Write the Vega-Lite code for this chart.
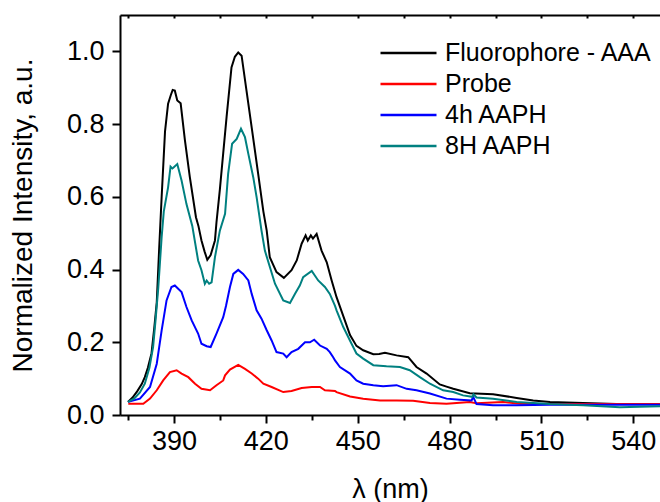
{
"$schema":"https://vega.github.io/schema/vega-lite/v6.json",
"width":540,"height":400,
"autosize":{"type":"none"},
"padding":{"left":120,"top":15,"right":0,"bottom":87},
"config":{"view":{"stroke":null},"font":"Liberation Sans","axis":{"grid":false,"domainColor":"#000","tickColor":"#000","labelColor":"#000","titleColor":"#000","domainWidth":2,"tickWidth":2,"labelFont":"Liberation Sans","titleFont":"Liberation Sans","titleFontWeight":"normal"}},
"data":{"values":[
{"s":"Fluorophore - AAA","x":375.0,"y":0.036},{"s":"Fluorophore - AAA","x":376.5,"y":0.048},{"s":"Fluorophore - AAA","x":378.0,"y":0.065},{"s":"Fluorophore - AAA","x":379.5,"y":0.085},{"s":"Fluorophore - AAA","x":380.5,"y":0.104},{"s":"Fluorophore - AAA","x":381.5,"y":0.13},{"s":"Fluorophore - AAA","x":382.7,"y":0.17},{"s":"Fluorophore - AAA","x":383.6,"y":0.24},{"s":"Fluorophore - AAA","x":384.4,"y":0.31},{"s":"Fluorophore - AAA","x":385.2,"y":0.46},{"s":"Fluorophore - AAA","x":386.0,"y":0.6},{"s":"Fluorophore - AAA","x":387.1,"y":0.78},{"s":"Fluorophore - AAA","x":388.1,"y":0.856},{"s":"Fluorophore - AAA","x":389.0,"y":0.88},{"s":"Fluorophore - AAA","x":389.6,"y":0.894},{"s":"Fluorophore - AAA","x":390.3,"y":0.892},{"s":"Fluorophore - AAA","x":391.1,"y":0.865},{"s":"Fluorophore - AAA","x":392.2,"y":0.857},{"s":"Fluorophore - AAA","x":393.6,"y":0.755},{"s":"Fluorophore - AAA","x":395.2,"y":0.654},{"s":"Fluorophore - AAA","x":397.2,"y":0.544},{"s":"Fluorophore - AAA","x":398.0,"y":0.52},{"s":"Fluorophore - AAA","x":399.0,"y":0.48},{"s":"Fluorophore - AAA","x":400.0,"y":0.45},{"s":"Fluorophore - AAA","x":400.9,"y":0.427},{"s":"Fluorophore - AAA","x":402.0,"y":0.44},{"s":"Fluorophore - AAA","x":403.4,"y":0.48},{"s":"Fluorophore - AAA","x":403.9,"y":0.53},{"s":"Fluorophore - AAA","x":405.0,"y":0.62},{"s":"Fluorophore - AAA","x":406.1,"y":0.72},{"s":"Fluorophore - AAA","x":407.2,"y":0.82},{"s":"Fluorophore - AAA","x":408.8,"y":0.956},{"s":"Fluorophore - AAA","x":409.9,"y":0.985},{"s":"Fluorophore - AAA","x":411.0,"y":0.997},{"s":"Fluorophore - AAA","x":412.1,"y":0.988},{"s":"Fluorophore - AAA","x":413.7,"y":0.892},{"s":"Fluorophore - AAA","x":415.4,"y":0.79},{"s":"Fluorophore - AAA","x":417.5,"y":0.664},{"s":"Fluorophore - AAA","x":419.2,"y":0.56},{"s":"Fluorophore - AAA","x":420.3,"y":0.507},{"s":"Fluorophore - AAA","x":421.3,"y":0.434},{"s":"Fluorophore - AAA","x":423.5,"y":0.393},{"s":"Fluorophore - AAA","x":425.9,"y":0.377},{"s":"Fluorophore - AAA","x":428.4,"y":0.398},{"s":"Fluorophore - AAA","x":430.1,"y":0.425},{"s":"Fluorophore - AAA","x":431.7,"y":0.471},{"s":"Fluorophore - AAA","x":433.0,"y":0.494},{"s":"Fluorophore - AAA","x":433.7,"y":0.48},{"s":"Fluorophore - AAA","x":434.7,"y":0.494},{"s":"Fluorophore - AAA","x":435.4,"y":0.485},{"s":"Fluorophore - AAA","x":436.6,"y":0.498},{"s":"Fluorophore - AAA","x":438.2,"y":0.452},{"s":"Fluorophore - AAA","x":439.9,"y":0.42},{"s":"Fluorophore - AAA","x":441.5,"y":0.37},{"s":"Fluorophore - AAA","x":443.1,"y":0.324},{"s":"Fluorophore - AAA","x":445.8,"y":0.26},{"s":"Fluorophore - AAA","x":447.5,"y":0.22},{"s":"Fluorophore - AAA","x":449.6,"y":0.19},{"s":"Fluorophore - AAA","x":451.8,"y":0.178},{"s":"Fluorophore - AAA","x":455.1,"y":0.167},{"s":"Fluorophore - AAA","x":457.0,"y":0.168},{"s":"Fluorophore - AAA","x":458.9,"y":0.171},{"s":"Fluorophore - AAA","x":462.7,"y":0.164},{"s":"Fluorophore - AAA","x":466.5,"y":0.159},{"s":"Fluorophore - AAA","x":469.2,"y":0.132},{"s":"Fluorophore - AAA","x":472.5,"y":0.114},{"s":"Fluorophore - AAA","x":476.8,"y":0.084},{"s":"Fluorophore - AAA","x":479.0,"y":0.078},{"s":"Fluorophore - AAA","x":481.2,"y":0.072},{"s":"Fluorophore - AAA","x":486.6,"y":0.06},{"s":"Fluorophore - AAA","x":494.2,"y":0.057},{"s":"Fluorophore - AAA","x":501.9,"y":0.047},{"s":"Fluorophore - AAA","x":507.3,"y":0.04},{"s":"Fluorophore - AAA","x":512.8,"y":0.036},{"s":"Fluorophore - AAA","x":523.6,"y":0.033},{"s":"Fluorophore - AAA","x":534.5,"y":0.03},{"s":"Fluorophore - AAA","x":548.7,"y":0.03},
{"s":"Probe","x":375.1,"y":0.031},{"s":"Probe","x":380.0,"y":0.031},{"s":"Probe","x":382.2,"y":0.045},{"s":"Probe","x":384.4,"y":0.068},{"s":"Probe","x":386.5,"y":0.095},{"s":"Probe","x":388.7,"y":0.118},{"s":"Probe","x":390.9,"y":0.123},{"s":"Probe","x":392.5,"y":0.114},{"s":"Probe","x":394.7,"y":0.104},{"s":"Probe","x":396.9,"y":0.086},{"s":"Probe","x":399.0,"y":0.072},{"s":"Probe","x":401.8,"y":0.068},{"s":"Probe","x":403.9,"y":0.082},{"s":"Probe","x":406.1,"y":0.095},{"s":"Probe","x":406.7,"y":0.109},{"s":"Probe","x":408.3,"y":0.125},{"s":"Probe","x":411.0,"y":0.138},{"s":"Probe","x":413.2,"y":0.127},{"s":"Probe","x":415.4,"y":0.114},{"s":"Probe","x":417.5,"y":0.1},{"s":"Probe","x":419.2,"y":0.086},{"s":"Probe","x":421.9,"y":0.077},{"s":"Probe","x":425.7,"y":0.063},{"s":"Probe","x":428.4,"y":0.066},{"s":"Probe","x":431.7,"y":0.074},{"s":"Probe","x":435.0,"y":0.077},{"s":"Probe","x":437.7,"y":0.077},{"s":"Probe","x":439.3,"y":0.068},{"s":"Probe","x":442.6,"y":0.066},{"s":"Probe","x":443.1,"y":0.063},{"s":"Probe","x":447.5,"y":0.051},{"s":"Probe","x":451.8,"y":0.045},{"s":"Probe","x":457.3,"y":0.04},{"s":"Probe","x":462.7,"y":0.04},{"s":"Probe","x":468.1,"y":0.039},{"s":"Probe","x":473.6,"y":0.033},{"s":"Probe","x":479.0,"y":0.031},{"s":"Probe","x":482.3,"y":0.033},{"s":"Probe","x":486.6,"y":0.036},{"s":"Probe","x":488.8,"y":0.032},{"s":"Probe","x":497.5,"y":0.036},{"s":"Probe","x":503.0,"y":0.031},{"s":"Probe","x":512.8,"y":0.03},{"s":"Probe","x":548.7,"y":0.03},
{"s":"4h AAPH","x":375.1,"y":0.036},{"s":"4h AAPH","x":378.9,"y":0.045},{"s":"4h AAPH","x":382.2,"y":0.077},{"s":"4h AAPH","x":384.4,"y":0.141},{"s":"4h AAPH","x":386.0,"y":0.233},{"s":"4h AAPH","x":387.6,"y":0.315},{"s":"4h AAPH","x":389.2,"y":0.352},{"s":"4h AAPH","x":390.3,"y":0.356},{"s":"4h AAPH","x":391.4,"y":0.347},{"s":"4h AAPH","x":392.5,"y":0.338},{"s":"4h AAPH","x":394.1,"y":0.297},{"s":"4h AAPH","x":395.8,"y":0.26},{"s":"4h AAPH","x":397.9,"y":0.224},{"s":"4h AAPH","x":399.0,"y":0.196},{"s":"4h AAPH","x":400.7,"y":0.189},{"s":"4h AAPH","x":402.0,"y":0.187},{"s":"4h AAPH","x":403.9,"y":0.224},{"s":"4h AAPH","x":406.1,"y":0.269},{"s":"4h AAPH","x":407.0,"y":0.3},{"s":"4h AAPH","x":408.3,"y":0.352},{"s":"4h AAPH","x":409.4,"y":0.388},{"s":"4h AAPH","x":411.0,"y":0.399},{"s":"4h AAPH","x":412.6,"y":0.388},{"s":"4h AAPH","x":414.3,"y":0.37},{"s":"4h AAPH","x":415.4,"y":0.333},{"s":"4h AAPH","x":417.0,"y":0.288},{"s":"4h AAPH","x":418.6,"y":0.265},{"s":"4h AAPH","x":420.3,"y":0.233},{"s":"4h AAPH","x":421.9,"y":0.205},{"s":"4h AAPH","x":423.5,"y":0.173},{"s":"4h AAPH","x":425.7,"y":0.169},{"s":"4h AAPH","x":426.8,"y":0.159},{"s":"4h AAPH","x":428.4,"y":0.173},{"s":"4h AAPH","x":430.6,"y":0.182},{"s":"4h AAPH","x":432.8,"y":0.2},{"s":"4h AAPH","x":434.4,"y":0.2},{"s":"4h AAPH","x":435.8,"y":0.207},{"s":"4h AAPH","x":437.7,"y":0.191},{"s":"4h AAPH","x":439.9,"y":0.182},{"s":"4h AAPH","x":440.9,"y":0.173},{"s":"4h AAPH","x":442.0,"y":0.159},{"s":"4h AAPH","x":442.6,"y":0.15},{"s":"4h AAPH","x":444.2,"y":0.132},{"s":"4h AAPH","x":447.5,"y":0.114},{"s":"4h AAPH","x":449.6,"y":0.095},{"s":"4h AAPH","x":451.8,"y":0.086},{"s":"4h AAPH","x":455.1,"y":0.082},{"s":"4h AAPH","x":458.3,"y":0.079},{"s":"4h AAPH","x":462.7,"y":0.082},{"s":"4h AAPH","x":466.0,"y":0.072},{"s":"4h AAPH","x":469.2,"y":0.068},{"s":"4h AAPH","x":473.6,"y":0.059},{"s":"4h AAPH","x":479.0,"y":0.045},{"s":"4h AAPH","x":483.4,"y":0.042},{"s":"4h AAPH","x":487.2,"y":0.04},{"s":"4h AAPH","x":487.7,"y":0.05},{"s":"4h AAPH","x":488.8,"y":0.03},{"s":"4h AAPH","x":494.2,"y":0.027},{"s":"4h AAPH","x":501.9,"y":0.027},{"s":"4h AAPH","x":512.8,"y":0.028},{"s":"4h AAPH","x":548.7,"y":0.028},
{"s":"8H AAPH","x":375.0,"y":0.036},{"s":"8H AAPH","x":377.0,"y":0.045},{"s":"8H AAPH","x":378.9,"y":0.062},{"s":"8H AAPH","x":380.5,"y":0.086},{"s":"8H AAPH","x":382.0,"y":0.13},{"s":"8H AAPH","x":383.2,"y":0.187},{"s":"8H AAPH","x":384.0,"y":0.26},{"s":"8H AAPH","x":384.9,"y":0.35},{"s":"8H AAPH","x":386.0,"y":0.49},{"s":"8H AAPH","x":386.7,"y":0.56},{"s":"8H AAPH","x":388.1,"y":0.626},{"s":"8H AAPH","x":388.9,"y":0.683},{"s":"8H AAPH","x":389.5,"y":0.678},{"s":"8H AAPH","x":389.8,"y":0.68},{"s":"8H AAPH","x":391.1,"y":0.69},{"s":"8H AAPH","x":392.5,"y":0.645},{"s":"8H AAPH","x":394.1,"y":0.58},{"s":"8H AAPH","x":396.0,"y":0.52},{"s":"8H AAPH","x":397.9,"y":0.425},{"s":"8H AAPH","x":399.0,"y":0.398},{"s":"8H AAPH","x":400.1,"y":0.361},{"s":"8H AAPH","x":400.7,"y":0.37},{"s":"8H AAPH","x":401.5,"y":0.361},{"s":"8H AAPH","x":402.3,"y":0.365},{"s":"8H AAPH","x":403.4,"y":0.434},{"s":"8H AAPH","x":405.0,"y":0.507},{"s":"8H AAPH","x":406.7,"y":0.553},{"s":"8H AAPH","x":407.7,"y":0.663},{"s":"8H AAPH","x":409.0,"y":0.746},{"s":"8H AAPH","x":410.5,"y":0.759},{"s":"8H AAPH","x":411.9,"y":0.787},{"s":"8H AAPH","x":413.2,"y":0.764},{"s":"8H AAPH","x":414.3,"y":0.718},{"s":"8H AAPH","x":415.9,"y":0.654},{"s":"8H AAPH","x":417.0,"y":0.599},{"s":"8H AAPH","x":418.6,"y":0.507},{"s":"8H AAPH","x":419.7,"y":0.452},{"s":"8H AAPH","x":423.0,"y":0.361},{"s":"8H AAPH","x":425.7,"y":0.315},{"s":"8H AAPH","x":427.9,"y":0.308},{"s":"8H AAPH","x":429.5,"y":0.333},{"s":"8H AAPH","x":431.1,"y":0.356},{"s":"8H AAPH","x":432.2,"y":0.379},{"s":"8H AAPH","x":435.0,"y":0.396},{"s":"8H AAPH","x":437.1,"y":0.37},{"s":"8H AAPH","x":439.3,"y":0.352},{"s":"8H AAPH","x":440.9,"y":0.333},{"s":"8H AAPH","x":442.6,"y":0.3},{"s":"8H AAPH","x":443.1,"y":0.288},{"s":"8H AAPH","x":445.3,"y":0.242},{"s":"8H AAPH","x":448.0,"y":0.196},{"s":"8H AAPH","x":449.6,"y":0.169},{"s":"8H AAPH","x":451.8,"y":0.155},{"s":"8H AAPH","x":455.1,"y":0.137},{"s":"8H AAPH","x":459.4,"y":0.134},{"s":"8H AAPH","x":463.8,"y":0.132},{"s":"8H AAPH","x":467.0,"y":0.123},{"s":"8H AAPH","x":470.3,"y":0.104},{"s":"8H AAPH","x":473.6,"y":0.086},{"s":"8H AAPH","x":477.9,"y":0.068},{"s":"8H AAPH","x":481.2,"y":0.063},{"s":"8H AAPH","x":484.4,"y":0.054},{"s":"8H AAPH","x":487.4,"y":0.05},{"s":"8H AAPH","x":487.8,"y":0.057},{"s":"8H AAPH","x":488.8,"y":0.048},{"s":"8H AAPH","x":494.2,"y":0.045},{"s":"8H AAPH","x":501.9,"y":0.036},{"s":"8H AAPH","x":512.8,"y":0.03},{"s":"8H AAPH","x":523.6,"y":0.027},{"s":"8H AAPH","x":535.6,"y":0.021},{"s":"8H AAPH","x":548.7,"y":0.024}
]},
"resolve":{"axis":{"x":"independent"}},
"layer":[
{"mark":{"type":"line","strokeWidth":2,"clip":true},
 "encoding":{
  "x":{"field":"x","type":"quantitative","scale":{"domain":[372.4,548.7],"nice":false,"zero":false},
   "axis":{"orient":"bottom","title":"λ (nm)","titleFontSize":27,"titleBaseline":"alphabetic","titleY":82,"values":[375,390,405,420,435,450,465,480,495,510,525,540],"labelExpr":"datum.value % 30 === 0 ? datum.label : ''","labelFontSize":27,"labelPadding":5,"tickSize":{"condition":{"test":"datum.value % 30 === 0","value":8},"value":5}}},
  "y":{"field":"y","type":"quantitative","scale":{"domain":[0,1.1],"nice":false},
   "axis":{"title":"Normalized Intensity, a.u.","titleFontSize":28,"titleBaseline":"alphabetic","titleX":-89,"values":[0,0.1,0.2,0.3,0.4,0.5,0.6,0.7,0.8,0.9,1.0],"format":".1f","labelExpr":"round(datum.value*10) % 2 === 0 ? datum.label : ''","labelFontSize":27,"labelPadding":8,"tickSize":{"condition":{"test":"round(datum.value*10) % 2 === 0","value":8},"value":5}}},
  "color":{"field":"s","type":"nominal","scale":{"domain":["Fluorophore - AAA","Probe","4h AAPH","8H AAPH"],"range":["#000000","#ff0000","#0000ff","#008080"]},
   "legend":{"orient":"none","legendX":259,"legendY":22.5,"title":null,"symbolType":"stroke","symbolSize":3136,"symbolStrokeWidth":2.5,"clipHeight":31,"rowPadding":0,"labelFontSize":25,"labelFont":"Liberation Sans","labelColor":"#000","labelOffset":7,"padding":0,"labelLimit":400}}
 }},
{"mark":{"type":"line","opacity":0},
 "encoding":{
  "x":{"field":"x","type":"quantitative","axis":{"orient":"top","title":null,"labels":false,"values":[375,390,405,420,435,450,465,480,495,510,525,540],"tickSize":-3}},
  "y":{"field":"y","type":"quantitative"}
 }}
]
}
